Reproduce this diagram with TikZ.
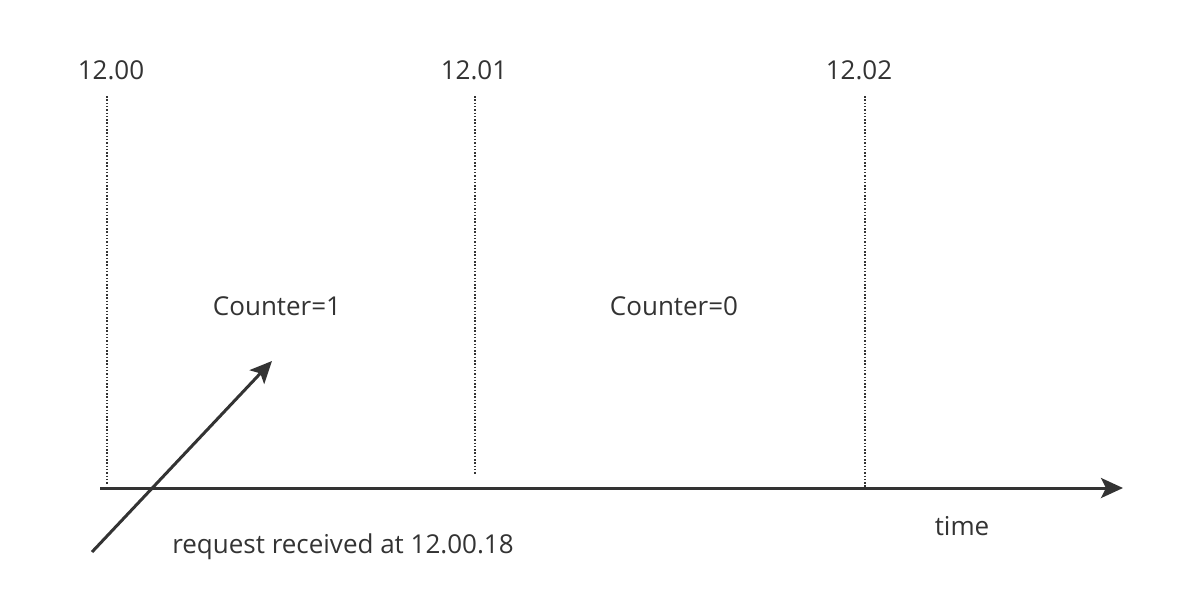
\documentclass[tikz,border=0pt]{standalone}
\usepackage{fontspec}
\setmainfont{Open Sans}
\usetikzlibrary{arrows.meta}
\definecolor{ink}{HTML}{333333}
\tikzset{
  lbl/.style={inner sep=0pt, text=ink, font=\fontsize{26}{31}\selectfont, anchor=center},
  tick/.style={draw=ink, line width=2.2pt, dash pattern=on 1.5pt off 1.8pt},
  axis/.style={draw=ink, line width=3pt, -{Stealth[length=22pt,width=20pt,inset=5pt]}},
}
\begin{document}
\begin{tikzpicture}[x=1pt,y=-1pt]
\useasboundingbox (0,0) rectangle (1198,592);
\node[lbl] (t0) at (111,70) {12.00};
\node[lbl] (t1) at (474,70) {12.01};
\node[lbl] (t2) at (859,70) {12.02};
\coordinate (a0) at (107,96);
\coordinate (b0) at (107,485);
\coordinate (a1) at (475,96);
\coordinate (b1) at (475,475);
\coordinate (a2) at (865,96);
\coordinate (b2) at (865,488);
\draw[tick] (a0) -- (b0);
\draw[tick] (a1) -- (b1);
\draw[tick] (a2) -- (b2);
\coordinate (xs) at (100,488);
\coordinate (xe) at (1123,488);
\draw[axis] (xs) -- (xe);
\node[lbl] (c1) at (277,306) {Counter=1};
\node[lbl] (c0) at (674,306) {Counter=0};
\node[lbl] (time) at (962,526) {time};
\node[lbl] (req) at (343,547) {request received at 12.00.18};
\coordinate (rs) at (92,552);
\coordinate (re) at (272,361);
\draw[axis] (rs) -- (re);
\end{tikzpicture}
\end{document}
